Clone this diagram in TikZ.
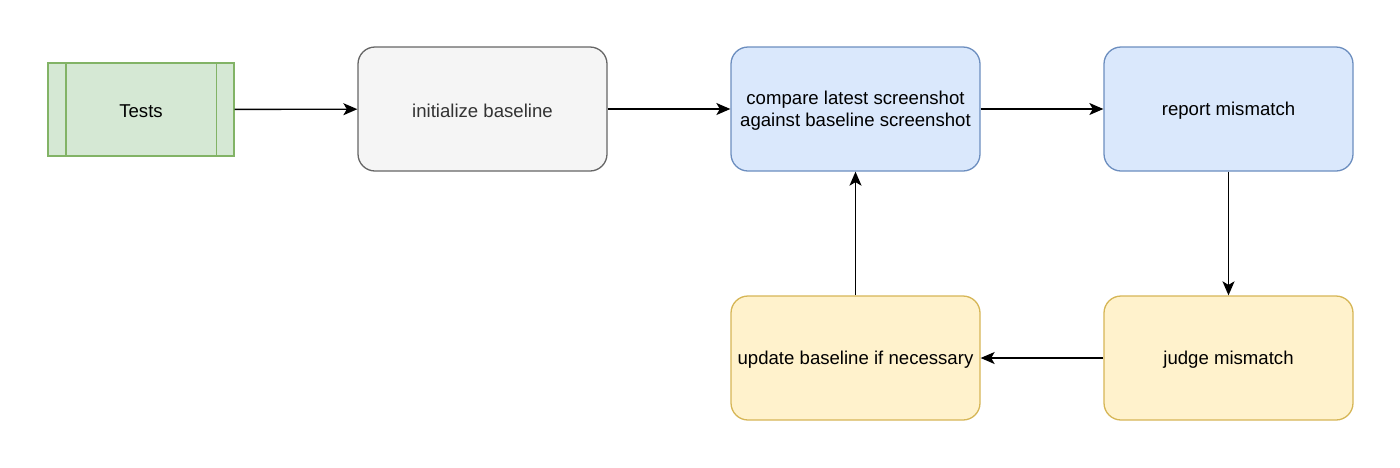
\documentclass[tikz,border=0pt]{standalone}
\usepackage{fontspec}
\setmainfont{Liberation Sans}
\usetikzlibrary{arrows.meta}
\definecolor{gfill}{HTML}{D5E8D4}\definecolor{gline}{HTML}{82B366}
\definecolor{nfill}{HTML}{F5F5F5}\definecolor{nline}{HTML}{666666}\definecolor{ntext}{HTML}{333333}
\definecolor{bfill}{HTML}{DAE8FC}\definecolor{bline}{HTML}{6C8EBF}
\definecolor{yfill}{HTML}{FFF2CC}\definecolor{yline}{HTML}{D6B656}
\newcommand{\lowtxt}[1]{\raisebox{-2pt}[\height][\depth]{#1}}
\begin{document}
\begin{tikzpicture}[x=1pt,y=-1pt,
  base/.style={minimum width=249pt,minimum height=124pt,inner sep=0pt,line width=1.3pt,
    rounded corners=17pt,align=center,font=\fontsize{18.6}{22.5}\selectfont},
  grey/.style={base,draw=nline,fill=nfill,text=ntext},
  blue/.style={base,draw=bline,fill=bfill},
  yellow/.style={base,draw=yline,fill=yfill},
  proc/.style={draw=gline,fill=gfill,line width=1.3pt,minimum width=186pt,minimum height=93pt,inner sep=0pt,
    font=\fontsize{18.6}{22.5}\selectfont},
  conn/.style={line width=1.4pt,-{Stealth[length=14pt,width=12pt,inset=3.5pt]}}]
\useasboundingbox (0,0) rectangle (1400,467);
\node[proc] (tests) at (141,109.5) {\lowtxt{Tests}};
\draw[gline,line width=1.3pt] (tests.north west) ++(18.5,0) -- ++(0,93);
\draw[gline,line width=1.3pt] (tests.north east) ++(-18.5,0) -- ++(0,93);
\node[grey] (init) at (482.5,109) {\lowtxt{initialize baseline}};
\node[blue] (cmp) at (855.5,109) {\lowtxt{\begin{tabular}{@{}c@{}}compare latest screenshot\\against baseline screenshot\end{tabular}}};
\node[blue] (rep) at (1228.5,109) {\lowtxt{report mismatch}};
\node[yellow] (upd) at (855.5,358) {\lowtxt{update baseline if necessary}};
\node[yellow] (jud) at (1228.5,358) {\lowtxt{judge mismatch}};
\draw[conn] (tests) -- (init);
\draw[conn] (init) -- (cmp);
\draw[conn] (cmp) -- (rep);
\draw[conn] (rep) -- (jud);
\draw[conn] (jud) -- (upd);
\draw[conn] (upd) -- (cmp);
\end{tikzpicture}
\end{document}
